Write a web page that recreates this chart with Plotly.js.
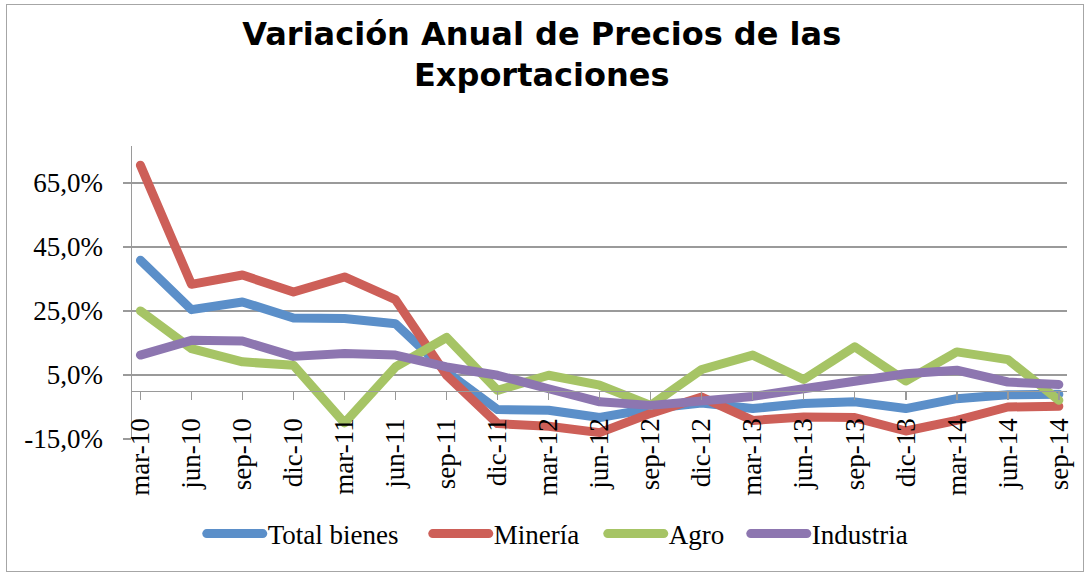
<!DOCTYPE html>
<html>
<head>
<meta charset="utf-8">
<script src="https://cdn.plot.ly/plotly-3.0.1.min.js"></script>
<style>
  html, body { margin: 0; padding: 0; background: #ffffff; }
  #wrap { position: relative; width: 1090px; height: 578px; }
  #chart { position: absolute; left: 0; top: 0; width: 1090px; height: 578px; }
  #chart path.js-line { stroke-linejoin: round; stroke-linecap: round; }
  #frame { position: absolute; left: 6px; top: 4px; width: 1078px; height: 568px;
           border: 1.5px solid #a6a6a6; box-sizing: border-box; pointer-events: none; }
</style>
</head>
<body>
<div id="wrap">
  <div id="chart"></div>
  <div id="frame"></div>
</div>
<script>
const categories = ['mar-10','jun-10','sep-10','dic-10','mar-11','jun-11','sep-11','dic-11',
                    'mar-12','jun-12','sep-12','dic-12','mar-13','jun-13','sep-13','dic-13',
                    'mar-14','jun-14','sep-14'];

const totalBienes = [40.8, 25.4, 27.8, 22.8, 22.6, 21.0, 6.0, -5.8,
                     -6.0, -8.3, -5.5, -3.8, -5.5, -3.9, -3.4, -5.5,
                     -2.4, -1.2, -1.0];
const mineria     = [70.5, 33.3, 36.2, 30.9, 35.6, 28.5, 4.9, -10.2,
                     -11.0, -13.0, -7.0, -1.9, -9.2, -8.1, -8.3, -12.5,
                     -9.2, -5.0, -4.8];
const agro        = [25.0, 13.2, 9.1, 8.0, -10.0, 7.5, 16.7, 0.2,
                     4.9, 1.8, -4.5, 6.7, 11.2, 3.6, 13.8, 3.1,
                     12.2, 9.8, -2.9];
const industria   = [11.2, 15.8, 15.6, 10.8, 11.7, 11.2, 7.5, 4.9,
                     0.7, -3.4, -4.5, -2.9, -1.7, 0.7, 3.3, 5.4,
                     6.5, 2.8, 2.0];

const seriesNames  = ['Total bienes', 'Minería', 'Agro', 'Industria'];
const seriesColors = ['#5b8fc9', '#cd5f58', '#a6c465', '#8d76b0'];
const legendWidths = [155, 104, 72, 102];

const yTickVals = [-15, 5, 25, 45, 65];
const yTickText = ['-15,0%', '5,0%', '25,0%', '45,0%', '65,0%'];

const titleText = 'Variación Anual de Precios de las<br>Exportaciones';

const yMin = -15, yMax = 76.5;
const xRange = [-0.165, categories.length - 1 + 0.16];
const zeroPos = (0 - yMin) / (yMax - yMin);

const serif = 'Liberation Serif, Times New Roman, serif';
const gridCol = '#9a9a9a';

const allSeries = [totalBienes, mineria, agro, industria];
const traces = allSeries.map((vals, i) => ({
  type: 'scatter',
  mode: 'lines',
  name: seriesNames[i],
  x: categories,
  y: vals,
  line: { color: seriesColors[i], width: 9 },
  legendwidth: legendWidths[i],
  hoverinfo: 'x+y+name'
}));

const layout = {
  width: 1090,
  height: 578,
  paper_bgcolor: '#ffffff',
  plot_bgcolor: '#ffffff',
  margin: { l: 132, r: 23, t: 146, b: 139 },
  title: {
    text: titleText,
    font: { family: 'DejaVu Sans, Verdana, sans-serif', size: 32, color: '#000000', weight: 'bold' },
    x: 0.497, xanchor: 'center', xref: 'container',
    y: 0.923, yanchor: 'top', yref: 'container'
  },
  showlegend: true,
  legend: {
    orientation: 'h',
    xref: 'container', x: 0.514, xanchor: 'center',
    yref: 'container', y: 0.076, yanchor: 'middle',
    font: { family: serif, size: 27, color: '#000000' },
    itemwidth: 56,
    bgcolor: 'rgba(0,0,0,0)'
  },
  xaxis: {
    type: 'category',
    categoryorder: 'array',
    categoryarray: categories,
    range: xRange,
    anchor: 'free',
    position: zeroPos,
    showline: true,
    linecolor: gridCol,
    linewidth: 1.5,
    showgrid: false,
    zeroline: false,
    ticks: 'outside',
    ticklen: 8,
    tickwidth: 1.5,
    tickcolor: gridCol,
    tickangle: -90,
    ticklabelstandoff: 7,
    tickfont: { family: serif, size: 27, color: '#000000' }
  },
  yaxis: {
    range: [yMin, yMax],
    tickvals: yTickVals,
    ticktext: yTickText,
    showline: true,
    linecolor: gridCol,
    linewidth: 1.5,
    ticks: 'outside',
    ticklen: 8,
    tickwidth: 1.5,
    tickcolor: gridCol,
    showgrid: true,
    gridcolor: gridCol,
    gridwidth: 1.5,
    zeroline: false,
    ticklabelstandoff: 14,
    tickfont: { family: serif, size: 27, color: '#000000' }
  }
};

Plotly.newPlot('chart', traces, layout, { displayModeBar: false, staticPlot: true });
</script>
</body>
</html>
